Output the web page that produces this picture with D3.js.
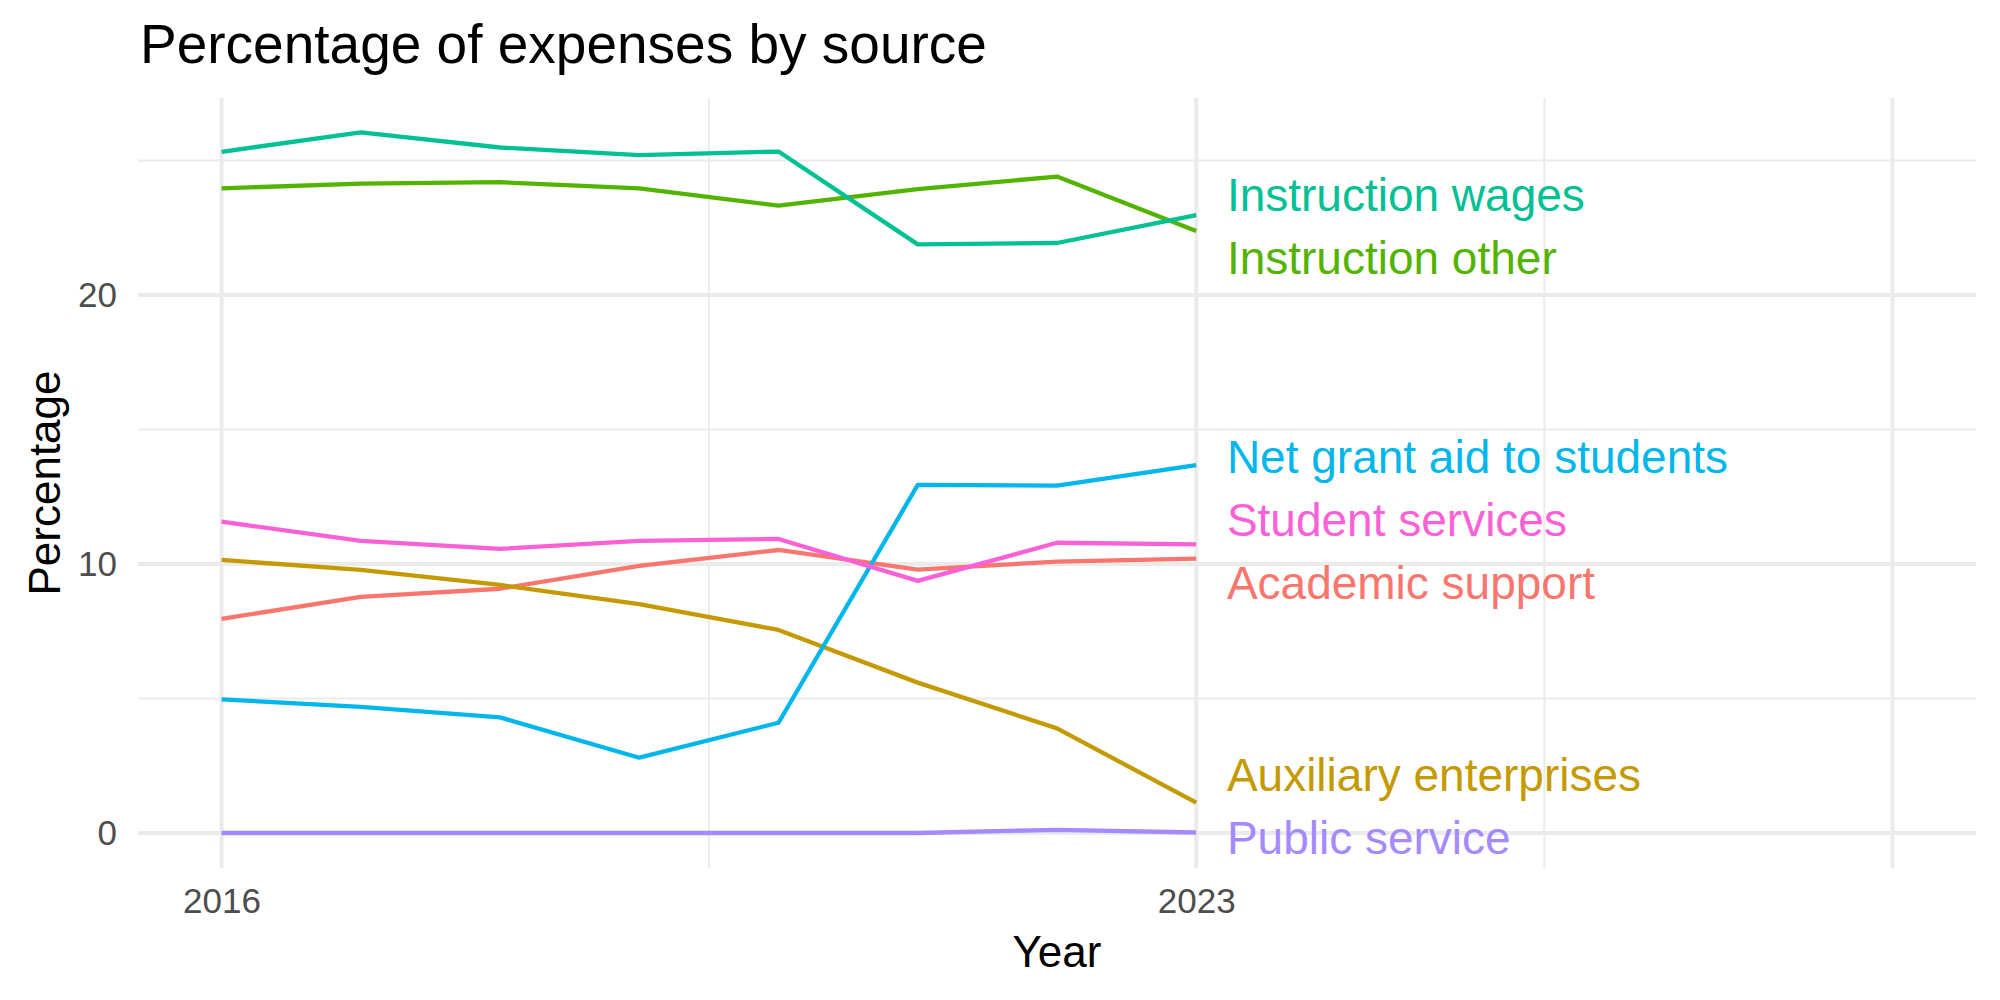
<!DOCTYPE html>
<html>
<head>
<meta charset="utf-8">
<script src="https://cdn.jsdelivr.net/npm/d3@7"></script>
<style>
  body { margin: 0; background: #fff; }
  text { font-family: "Liberation Sans", Arial, Helvetica, sans-serif; }
</style>
</head>
<body>
<div id="chart"></div>
<script>
// Data
const years = [2016, 2017, 2018, 2019, 2020, 2021, 2022, 2023];
const categories = [
  "Academic support", "Auxiliary enterprises", "Instruction other",
  "Instruction wages", "Net grant aid to students", "Public service", "Student services"
];
const academicSupport   = [7.96, 8.78, 9.08, 9.93, 10.52, 9.79, 10.09, 10.20];
const auxiliary         = [10.15, 9.78, 9.22, 8.51, 7.55, 5.59, 3.89, 1.13];
const instructionOther  = [23.96, 24.14, 24.19, 23.96, 23.32, 23.93, 24.40, 22.38];
const instructionWages  = [25.32, 26.04, 25.48, 25.20, 25.33, 21.88, 21.93, 22.97];
const netGrantAid       = [4.97, 4.69, 4.30, 2.80, 4.10, 12.94, 12.91, 13.67];
const publicService     = [0, 0, 0, 0, 0, 0, 0.12, 0.02];
const studentServices   = [11.57, 10.86, 10.56, 10.86, 10.93, 9.37, 10.79, 10.73];
const seriesValues = [academicSupport, auxiliary, instructionOther, instructionWages,
                      netGrantAid, publicService, studentServices];
// repelled label positions (data units) as they sit in the reference
const labelY = [9.31, 2.17, 21.39, 23.75, 14.01, -0.17, 11.67];
const labelX = 2023.22;

const colors = ["#F8766D", "#C49A00", "#53B400", "#00C094", "#00B6EB", "#A58AFF", "#FB61D7"];

const xBreaks = [2016, 2023, 2028];
const xLabels = ["2016", "2023", ""];
const xMinor = [2019.5, 2025.5];
const yBreaks = [0, 10, 20];
const yMinor = [5, 15, 25];

const width = 2000, height = 1000;
const panel = { left: 138, right: 1976, top: 98, bottom: 868 };

const svg = d3.select('#chart').append('svg')
  .attr('width', width)
  .attr('height', height);

const x = d3.scaleLinear().domain([2015.4, 2028.6]).range([panel.left, panel.right]);
const y = d3.scaleLinear().domain([-1.30, 27.32]).range([panel.bottom, panel.top]);

// grid
const grid = svg.append('g');
grid.selectAll('.ymin').data(yMinor).enter().append('line')
  .attr('x1', panel.left).attr('x2', panel.right)
  .attr('y1', d => y(d)).attr('y2', d => y(d))
  .attr('stroke', '#EBEBEB').attr('stroke-width', 2);
grid.selectAll('.xmin').data(xMinor).enter().append('line')
  .attr('y1', panel.top).attr('y2', panel.bottom)
  .attr('x1', d => x(d)).attr('x2', d => x(d))
  .attr('stroke', '#EBEBEB').attr('stroke-width', 2);
grid.selectAll('.ymaj').data(yBreaks).enter().append('line')
  .attr('x1', panel.left).attr('x2', panel.right)
  .attr('y1', d => y(d)).attr('y2', d => y(d))
  .attr('stroke', '#EBEBEB').attr('stroke-width', 4);
grid.selectAll('.xmaj').data(xBreaks).enter().append('line')
  .attr('y1', panel.top).attr('y2', panel.bottom)
  .attr('x1', d => x(d)).attr('x2', d => x(d))
  .attr('stroke', '#EBEBEB').attr('stroke-width', 4);

// axes (labels only)
const yAxis = svg.append('g')
  .attr('transform', `translate(${panel.left}, 0)`)
  .call(d3.axisLeft(y).tickValues(yBreaks).tickSize(0).tickPadding(21));
const xAxis = svg.append('g')
  .attr('transform', `translate(0, ${panel.bottom})`)
  .call(d3.axisBottom(x).tickValues(xBreaks).tickFormat((d, i) => xLabels[i]).tickSize(0).tickPadding(20));
[yAxis, xAxis].forEach(a => {
  a.select('.domain').remove();
  a.selectAll('text').attr('font-size', 35).attr('fill', '#4D4D4D')
    .style('font-family', '"Liberation Sans", Arial, sans-serif');
});

// lines
const line = d3.line().x((d, i) => x(years[i])).y(d => y(d));
svg.append('g').selectAll('path')
  .data(seriesValues).enter().append('path')
  .attr('d', line)
  .attr('fill', 'none')
  .attr('stroke', (d, i) => colors[i])
  .attr('stroke-width', 4.3)
  .attr('stroke-linejoin', 'round');

// direct labels
svg.append('g').selectAll('text')
  .data(categories).enter().append('text')
  .attr('x', x(labelX))
  .attr('y', (d, i) => y(labelY[i]))
  .attr('dy', '0.36em')
  .attr('font-size', 46)
  .attr('fill', (d, i) => colors[i])
  .text(d => d);

// titles
svg.append('text')
  .attr('x', 140).attr('y', 63)
  .attr('font-size', 55).attr('fill', '#000')
  .text('Percentage of expenses by source');
svg.append('text')
  .attr('x', (panel.left + panel.right) / 2).attr('y', 967)
  .attr('text-anchor', 'middle')
  .attr('font-size', 44).attr('fill', '#000')
  .text('Year');
svg.append('text')
  .attr('transform', `translate(60, ${(panel.top + panel.bottom) / 2}) rotate(-90)`)
  .attr('text-anchor', 'middle')
  .attr('font-size', 44).attr('fill', '#000')
  .text('Percentage');
</script>
</body>
</html>
